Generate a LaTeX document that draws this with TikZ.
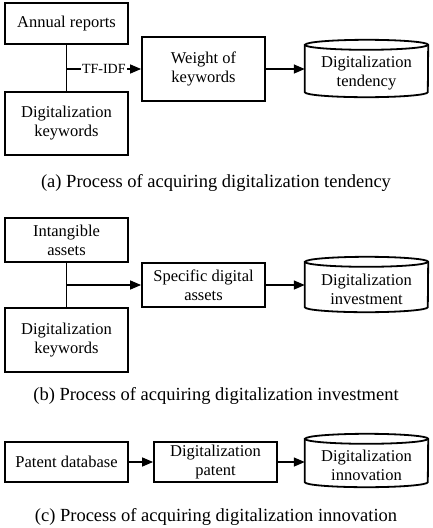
\documentclass[tikz,border=0pt]{standalone}
\usepackage{fontspec}
\setmainfont{Liberation Serif}
\usetikzlibrary{arrows.meta}
\tikzset{
  box/.style={draw, line width=1.8pt, minimum width=123pt, inner sep=2pt, align=center, font=\fontsize{16.5}{19}\selectfont},
  cylbody/.style={minimum width=123pt, inner sep=2pt, align=center, font=\fontsize{16.5}{19}\selectfont},
  conn/.style={line width=1.4pt},
  arr/.style={conn, -{Triangle[length=11pt,width=9pt]}},
  captiontext/.style={font=\fontsize{18.5}{21}\selectfont},
  lbl/.style={fill=white, inner sep=1pt, font=\fontsize{14}{16}\selectfont}
}
\newcommand{\mycyl}[1]{%
  \draw[line width=1.8pt] ([yshift=5pt]#1.north west) -- ([yshift=5pt]#1.south west)
     arc[start angle=180,end angle=360,x radius=61.5pt,y radius=5pt]
     -- ([yshift=5pt]#1.north east)
     arc[start angle=0,end angle=180,x radius=61.5pt,y radius=5pt] -- cycle;
  \draw[line width=1.8pt] ([yshift=5pt]#1.north west)
     arc[start angle=180,end angle=360,x radius=61.5pt,y radius=5pt];
}
\begin{document}
\begin{tikzpicture}[x=1pt,y=-1pt]
\useasboundingbox (0,0) rectangle (432,528);
% (a)
\node[box, minimum height=41pt] (a1) at (66.5,23.5) {Annual reports};
\node[box, minimum height=63pt] (a2) at (66.5,123.5) {Digitalization\\keywords};
\node[box, minimum height=64pt] (a3) at (203.5,69) {Weight of\\keywords};
\node[cylbody, minimum height=47pt] (a4) at (366.5,73.5) {Digitalization\\tendency};
\mycyl{a4}
\draw[conn] (a1.south) -- (a2.north);
\draw[arr] (a1.south |- a3.west) -- node[lbl]{TF-IDF} (a3.west);
\draw[arr] (a3.east) -- (a3.east -| a4.west);
\node[captiontext] (ca) at (216,183) {(a) Process of acquiring digitalization tendency};
% (b)
\node[box, minimum height=44pt] (b1) at (66.5,240) {Intangible\\assets};
\node[box, minimum height=64pt] (b2) at (66.5,340) {Digitalization\\keywords};
\node[box, minimum height=44pt] (b3) at (203.5,285) {Specific digital\\assets};
\node[cylbody, minimum height=45pt] (b4) at (366.5,289.5) {Digitalization\\investment};
\mycyl{b4}
\draw[conn] (b1.south) -- (b2.north);
\draw[arr] (b1.south |- b3.west) -- (b3.west);
\draw[arr] (b3.east) -- (b3.east -| b4.west);
\node[captiontext] (cb) at (216,396) {(b) Process of acquiring digitalization investment};
% (c)
\node[box, minimum height=40pt] (c1) at (66.5,462) {Patent database};
\node[box, minimum height=40pt] (c2) at (215.5,462) {Digitalization\\patent};
\node[cylbody, minimum height=43pt] (c3) at (366.5,465.5) {Digitalization\\innovation};
\mycyl{c3}
\draw[arr] (c1.east) -- (c2.west);
\draw[arr] (c2.east) -- (c2.east -| c3.west);
\node[captiontext] (cc) at (216,517) {(c) Process of acquiring digitalization innovation};
\end{tikzpicture}
\end{document}
